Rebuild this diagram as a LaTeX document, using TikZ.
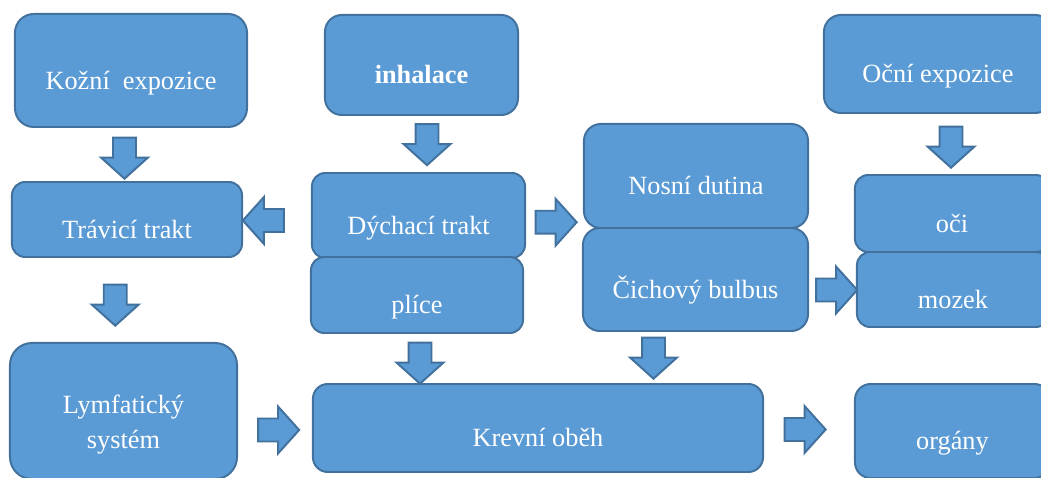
\documentclass[tikz,border=0pt]{standalone}
\usepackage{fontspec}
\setmainfont{Liberation Serif}
\usetikzlibrary{shapes.arrows,calc}
\definecolor{boxfill}{RGB}{91,155,213}
\definecolor{boxline}{RGB}{65,113,156}
\begin{document}
\begin{tikzpicture}[x=0.025cm,y=-0.025cm,
  box/.style={draw=boxline,fill=boxfill,line width=1.4pt,text=white,
    font=\fontsize{18.7}{25.2}\selectfont,inner sep=0pt,
    text height=27.6pt,text depth=0.7pt,rounded corners=0.42cm},
  smallbox/.style={box,rounded corners=0.33cm},
  blockarrow/.style={single arrow,draw=boxline,fill=boxfill,line width=1.4pt,
    minimum height=1.025cm,inner sep=0.2625cm,
    single arrow head extend=0.3cm,single arrow tip angle=96}]
  \useasboundingbox (0,0) rectangle (1041,478);

  % exposure routes
  \node[box,minimum width=5.8cm,minimum height=2.825cm,rounded corners=0.47cm]
    (kozni) at (131,70.5) {Kožní\ \ expozice};
  \node[box,minimum width=4.825cm,minimum height=2.5cm]
    (inhal) at (421.5,65) {\textbf{inhalace}};
  \node[box,minimum width=5.7cm,minimum height=2.45cm]
    (ocni) at (938,64) {Oční expozice};

  % target tissues
  \node[box,minimum width=5.6cm,minimum height=2.6cm]
    (nosni) at (696,176) {Nosní dutina};
  \node[smallbox,minimum width=5.75cm,minimum height=1.875cm]
    (travici) at (127,219.5) {Trávicí trakt};
  \node[smallbox,minimum width=5.325cm,minimum height=2.125cm]
    (dychaci) at (418.5,215.5) {Dýchací trakt};
  \node[smallbox,minimum width=5.3cm,minimum height=1.9cm]
    (plice) at (417,295) {plíce};
  \node[box,minimum width=5.625cm,minimum height=2.575cm]
    (cichovy) at (695.5,279.5) {Čichový bulbus};
  \node[smallbox,minimum width=4.85cm,minimum height=1.925cm]
    (oci) at (952,213.5) {oči};
  \node[smallbox,minimum width=4.8cm,minimum height=1.875cm]
    (mozek) at (953,289.5) {mozek};

  % distribution
  \node[box,minimum width=5.675cm,minimum height=3.4cm,rounded corners=0.55cm,
    align=center,text height=54.6pt] (lymf) at (123.5,411) {Lymfatický\\systém};
  \node[box,minimum width=11.25cm,minimum height=2.2cm,rounded corners=0.37cm]
    (krevni) at (538,428) {Krevní oběh};
  \node[box,minimum width=4.875cm,minimum height=2.35cm,rounded corners=0.39cm]
    (organy) at (952.5,431) {orgány};

  % block arrows
  \node[blockarrow,rotate=-90] (a1) at ($(kozni.south)!0.5!(travici.north)+(-4.5,-1.5)$) {};
  \node[blockarrow,rotate=-90] (a2) at ($(inhal.south)!0.5!(dychaci.north)+(7,-4.5)$) {};
  \node[blockarrow,rotate=-90] (a3) at ($(ocni.south)!0.5!(oci.north)+(6,-2)$) {};
  \node[blockarrow,rotate=180] (a4) at ($(dychaci.west)!0.5!(travici.east)+(-8.5,3)$) {};
  \node[blockarrow] (a5) at ($(dychaci.east)!0.5!(nosni.south west)+(-3.5,0)$) {};
  \node[blockarrow,rotate=-90] (a6) at ($(travici.south)!0.5!(lymf.north)+(-10,0)$) {};
  \node[blockarrow,rotate=-90] (a7) at ($(plice.south)!0.5!(plice.south |- krevni.north)+(3,-0.5)$) {};
  \node[blockarrow,rotate=-90] (a8) at ($(cichovy.south)!0.5!(cichovy.south |- krevni.north)+(-42,-4.5)$) {};
  \node[blockarrow] (a9) at ($(cichovy.east)!0.5!(mozek.west)+(-1,5.5)$) {};
  \node[blockarrow] (a10) at ($(lymf.east)!0.5!(krevni.west)+(-1.5,10.5)$) {};
  \node[blockarrow] (a11) at ($(krevni.east)!0.5!(organy.west)+(-9,0)$) {};
\end{tikzpicture}
\end{document}
